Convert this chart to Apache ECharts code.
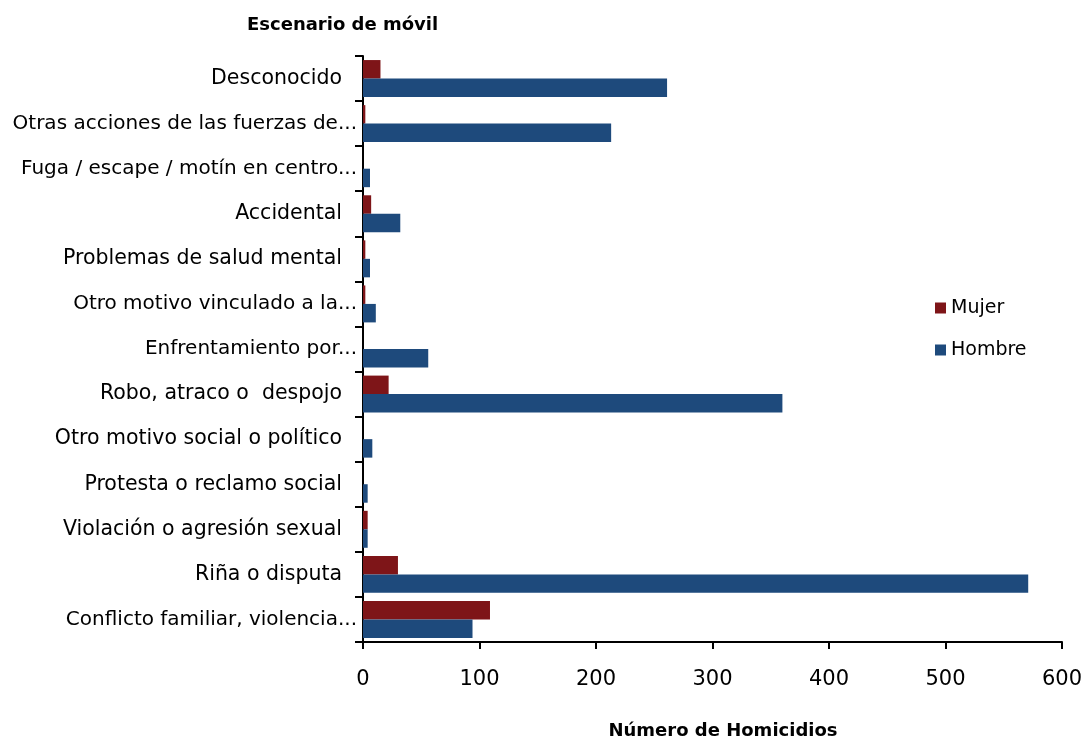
<!DOCTYPE html>
<html>
<head>
<meta charset="utf-8">
<script src="https://cdn.jsdelivr.net/npm/echarts@6/dist/echarts.min.js"></script>
<style>
html,body{margin:0;padding:0;background:#fff;}
#chart{width:1084px;height:740px;}
</style>
</head>
<body>
<div id="chart"></div>
<script>
// Categories listed bottom to top
const categories = [
  "Conflicto familiar, violencia...",
  "Riña o disputa",
  "Violación o agresión sexual",
  "Protesta o reclamo social",
  "Otro motivo social o político",
  "Robo, atraco o  despojo",
  "Enfrentamiento por...",
  "Otro motivo vinculado a la...",
  "Problemas de salud mental",
  "Accidental",
  "Fuga / escape / motín en centro...",
  "Otras acciones de las fuerzas de...",
  "Desconocido"
];
const mujer  = [109, 30, 4, 0, 0, 22, 0, 2, 2, 7, 0, 2, 15];
const hombre = [94, 571, 4, 4, 8, 360, 56, 11, 6, 32, 6, 213, 261];
const xTicks = [0, 100, 200, 300, 400, 500, 600];

const FONT = "DejaVu Sans";
const chart = echarts.init(document.getElementById('chart'), null, {renderer: 'canvas'});
chart.setOption({
  animation: false,
  backgroundColor: '#ffffff',
  title: {
    text: 'Escenario de móvil',
    left: 247, top: 16, padding: 0,
    textStyle: {fontFamily: FONT, fontSize: 18, fontWeight: 'bold', color: '#000'}
  },
  legend: {
    orient: 'vertical',
    left: 935, top: 298, padding: 0,
    data: ['Mujer', 'Hombre'],
    itemWidth: 11, itemHeight: 11, itemGap: 22,
    icon: 'rect',
    textStyle: {fontFamily: FONT, fontSize: 19, color: '#000', lineHeight: 20}
  },
  grid: {left: 363, right: 22, top: 56, bottom: 98, containLabel: false, outerBoundsMode: 'none'},
  xAxis: {
    type: 'value',
    min: xTicks[0], max: xTicks[xTicks.length - 1], interval: 100,
    name: 'Número de Homicidios',
    nameLocation: 'middle', nameGap: 80,
    nameTextStyle: {fontFamily: FONT, fontSize: 18, fontWeight: 'bold', color: '#000', padding: [0, 0, 0, 21]},
    axisLine: {show: true, lineStyle: {color: '#000', width: 2}},
    axisTick: {show: true, length: 7, lineStyle: {color: '#000', width: 2}},
    axisLabel: {fontFamily: FONT, fontSize: 21, color: '#000', margin: 27},
    splitLine: {show: false}
  },
  yAxis: {
    type: 'category',
    data: categories,
    axisLine: {show: true, lineStyle: {color: '#000', width: 2}},
    axisTick: {show: true, length: 8, lineStyle: {color: '#000', width: 2}},
    axisLabel: {
      fontFamily: FONT, fontSize: 20.5, color: '#000', margin: 6,
      formatter: function (v) {
        return v.endsWith('...') ? '{t|' + v + '}' : '{p|' + v + '}';
      },
      rich: {
        t: {fontFamily: FONT, fontSize: 20, color: '#000'},
        p: {fontFamily: FONT, fontSize: 20.5, color: '#000', padding: [0, 15, 0, 0]}
      }
    },
    splitLine: {show: false}
  },
  series: [
    {
      name: 'Mujer', type: 'bar', data: mujer,
      barGap: '0%', barCategoryGap: '18%',
      itemStyle: {color: '#7E1518'}
    },
    {
      name: 'Hombre', type: 'bar', data: hombre,
      barGap: '0%', barCategoryGap: '18%',
      itemStyle: {color: '#1E4A7C'}
    }
  ]
});
</script>
</body>
</html>
